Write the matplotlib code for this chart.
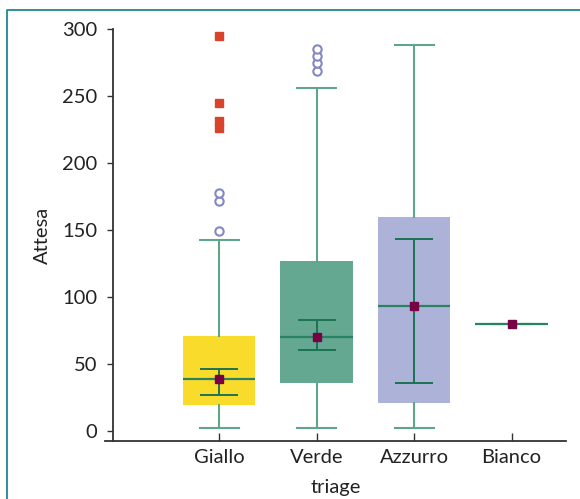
import numpy as np
import matplotlib.pyplot as plt
from matplotlib.lines import Line2D

plt.rcParams['font.family'] = ['Lato', 'DejaVu Sans']

# box plot data
categories = ['Giallo', 'Verde', 'Azzurro', 'Bianco']
q1 = [19, 36, 20.5, 80]
median = [38.5, 70, 93, 80]
q3 = [71, 127, 160, 80]
whisk_lo = [2, 2, 2, 80]
whisk_hi = [142.5, 256, 288, 80]
mean = [38.5, 70, 93, 80]
ci_lo = [27, 60.5, 36]
ci_hi = [46, 82.5, 143.5]
mild_out = [[149.5, 171.5, 177.5], [269, 274.5, 280, 285], [], []]
extreme_out = [[226, 231, 244.5, 294.5], [], [], []]
box_colors = ['#F9DC2B', '#64A892', '#ADB3D8', 'white']

pos = np.arange(len(categories))
fs = 14.5

fig = plt.figure(figsize=(5.8, 4.99), dpi=100)
ax = fig.add_axes([105/580, 1 - 441/499, 461/580, 412/499])

stats = []
for i in range(len(categories)):
    stats.append(dict(med=median[i], q1=q1[i], q3=q3[i], whislo=whisk_lo[i],
                      whishi=whisk_hi[i], fliers=mild_out[i], mean=mean[i]))

bp = ax.bxp(stats, positions=pos, widths=0.74, patch_artist=True,
            showfliers=True, capwidths=0.4,
            boxprops=dict(linewidth=0),
            medianprops=dict(color='#2A8360', lw=1.6),
            whiskerprops=dict(color='#5EA68A', lw=1.5),
            capprops=dict(color='#5EA68A', lw=1.5),
            flierprops=dict(marker='o', mfc='white', mec='#8487C2', ms=6, mew=1.5))
for patch, c in zip(bp['boxes'], box_colors):
    patch.set_facecolor(c)

# confidence interval of the mean
m3 = np.array(mean[:3])
ax.errorbar(pos[:3], m3, yerr=[m3 - np.array(ci_lo), np.array(ci_hi) - m3],
            fmt='none', ecolor='#1B7353', elinewidth=1.4, capsize=14, capthick=1.4, zorder=4)

# extreme outliers
for i, vals in enumerate(extreme_out):
    if vals:
        ax.plot([pos[i]] * len(vals), vals, 's', color='#D9432B', ms=5.2, zorder=4)

# means
ax.plot(pos, mean, 's', color='#7A0046', ms=6.2, zorder=6)

ax.set_xlim((105 - 219) / 97.5, (566 - 219) / 97.5)
ax.set_ylim(-7.5, 300)
ax.set_xticks(pos)
ax.set_xticklabels(categories)
ax.set_yticks([0, 50, 100, 150, 200, 250, 300])

for s in ['top', 'right']:
    ax.spines[s].set_visible(False)
ax.spines['left'].set_position(('axes', 8 / 461))
ax.spines['left'].set_bounds(-7.5, 300)
for s in ['left', 'bottom']:
    ax.spines[s].set_color('#333333')
    ax.spines[s].set_linewidth(1.3)

ax.tick_params(axis='y', direction='out', length=4.5, width=1, colors='#333333',
               labelcolor='#222222', labelsize=fs, pad=7)
ax.tick_params(axis='x', direction='in', length=6, width=1, colors='#333333',
               labelcolor='#222222', labelsize=fs, pad=6)
ax.set_ylabel('Attesa', fontsize=fs, color='#222222', labelpad=8)
ax.set_xlabel('triage', fontsize=fs, color='#222222', labelpad=9)

# frame around the figure (left and top sides)
fig.add_artist(Line2D([7/580, 7/580, 1], [0, 1 - 10/499, 1 - 10/499],
                      color='#1E8A8F', lw=1.3))

fig.savefig('out.png', dpi=100)
